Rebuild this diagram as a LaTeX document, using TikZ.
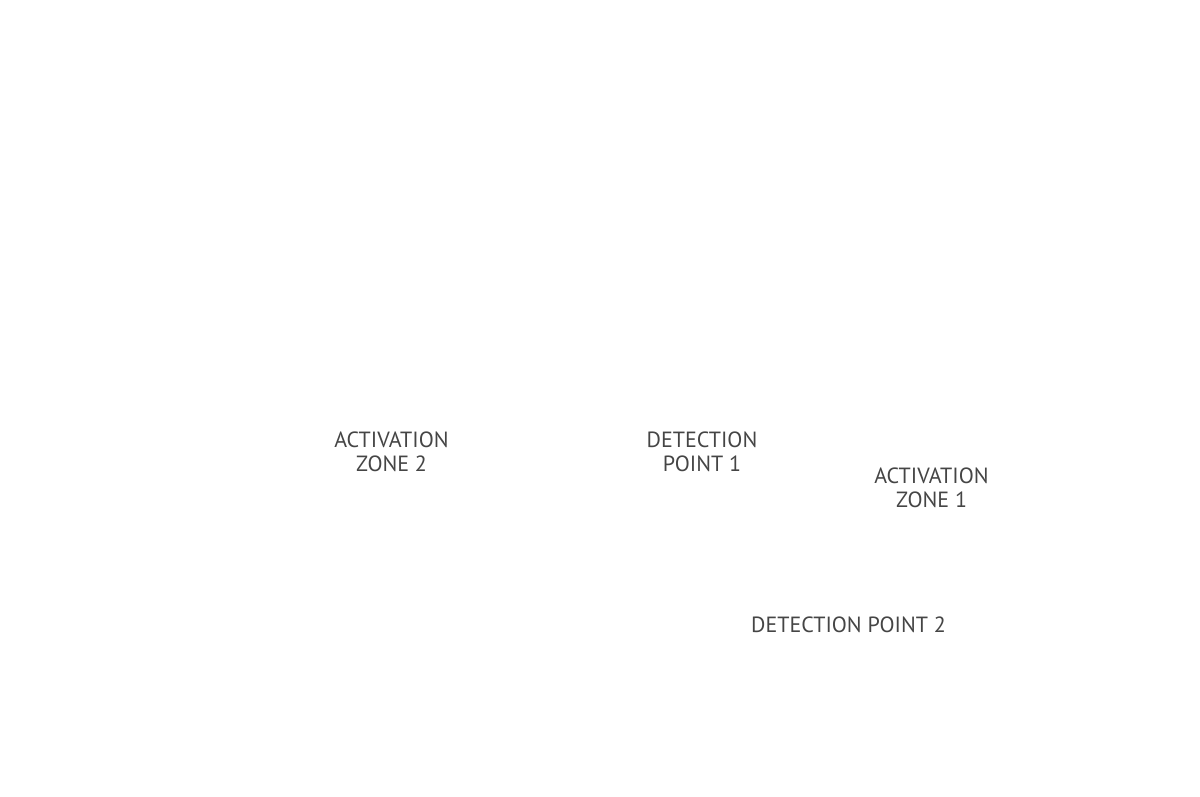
\documentclass[tikz,border=0pt]{standalone}
\usepackage{fontspec}
\setmainfont{PT Sans}
\definecolor{labelgray}{HTML}{454545}
\tikzset{lbl/.style={text=labelgray, align=center, inner sep=0pt, font=\fontsize{22}{24}\selectfont}}
\begin{document}
\begin{tikzpicture}[x=1pt,y=-1pt]
\useasboundingbox (0,0) rectangle (1200,797);
\node[lbl] (az2) at (391.5,452) {ACTIVATION\\ZONE 2};
\node[lbl] (dp1) at (702,452) {DETECTION\\POINT 1};
\node[lbl] (az1) at (931.5,488) {ACTIVATION\\ZONE 1};
\node[lbl] (dp2) at (848.5,625) {DETECTION POINT 2};
\end{tikzpicture}
\end{document}
